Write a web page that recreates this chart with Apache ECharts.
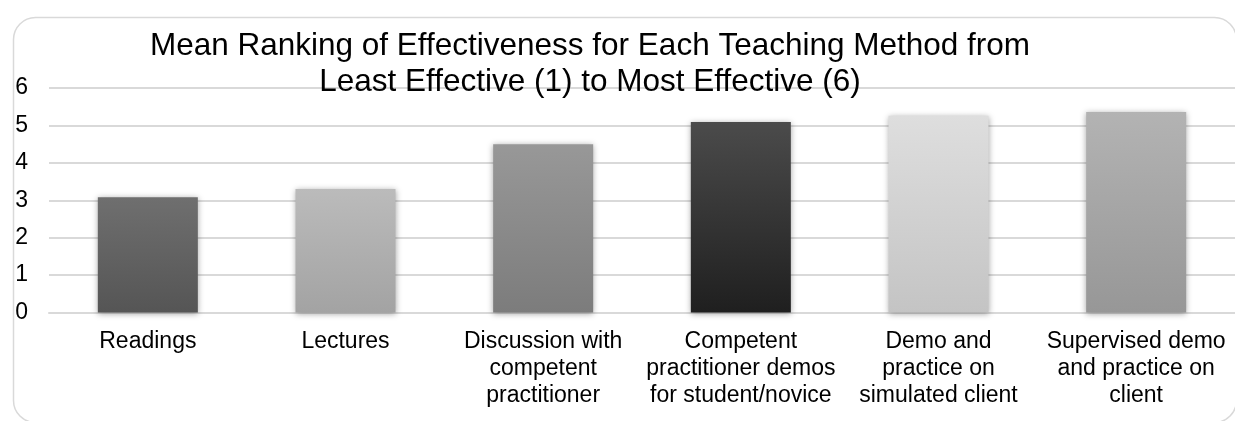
<!DOCTYPE html>
<html>
<head>
<meta charset="utf-8">
<script src="https://cdn.jsdelivr.net/npm/echarts@6/dist/echarts.min.js"></script>
<style>
html,body{margin:0;padding:0;background:#fff;}
#chart{width:1235px;height:421px;}
</style>
</head>
<body>
<div id="chart"></div>
<script>
var titleText = 'Mean Ranking of Effectiveness for Each Teaching Method from\nLeast Effective (1) to Most Effective (6)';
var categories = [
  'Readings',
  'Lectures',
  'Discussion with\ncompetent\npractitioner',
  'Competent\npractitioner demos\nfor student/novice',
  'Demo and\npractice on\nsimulated client',
  'Supervised demo\nand practice on\nclient'
];
var meanRanks = [3.08, 3.30, 4.50, 5.09, 5.26, 5.36];
var yTicks = [0, 1, 2, 3, 4, 5, 6];
var barGradients = [
  ['#6f6f6f', '#555555'],
  ['#bbbbbb', '#a3a3a3'],
  ['#989898', '#7c7c7c'],
  ['#4b4b4b', '#1f1f1f'],
  ['#dedede', '#c4c4c4'],
  ['#b3b3b3', '#979797']
];

var chart = echarts.init(document.getElementById('chart'), null, {renderer: 'canvas'});
var FONT = '"Liberation Sans", Arial, sans-serif';

var seriesData = meanRanks.map(function (v, i) {
  return {
    value: v,
    itemStyle: {
      color: new echarts.graphic.LinearGradient(0, 0, 0, 1, [
        {offset: 0, color: barGradients[i][0]},
        {offset: 1, color: barGradients[i][1]}
      ])
    }
  };
});

chart.setOption({
  animation: false,
  backgroundColor: '#ffffff',
  graphic: [{
    type: 'rect',
    left: 11, top: 15,
    shape: {x: 0, y: 0, width: 1223, height: 405, r: 22},
    style: {fill: 'none', stroke: '#d9d9d9', lineWidth: 1.5},
    z: -1, silent: true
  }],
  title: {
    text: titleText,
    left: 585,
    top: 23,
    textAlign: 'center',
    textStyle: {
      fontFamily: FONT,
      fontSize: 31.5,
      fontWeight: 'normal',
      color: '#000000',
      lineHeight: 36
    }
  },
  grid: {left: 49, top: 88, width: 1190, bottom: 108.5, containLabel: false},
  xAxis: {
    type: 'category',
    data: categories,
    axisLine: {show: true, lineStyle: {color: '#d9d9d9', width: 2}},
    axisTick: {show: false},
    axisLabel: {
      interval: 0,
      margin: 16,
      fontFamily: FONT,
      fontSize: 23,
      lineHeight: 27,
      color: '#000000',
      align: 'center'
    }
  },
  yAxis: {
    type: 'value',
    min: yTicks[0],
    max: yTicks[yTicks.length - 1],
    interval: 1,
    axisLine: {show: false},
    axisTick: {show: false},
    splitLine: {show: true, lineStyle: {color: '#d9d9d9', width: 2}},
    axisLabel: {
      margin: 21,
      fontFamily: FONT,
      fontSize: 23,
      color: '#000000'
    }
  },
  series: [{
    type: 'bar',
    data: seriesData,
    barWidth: 100,
    itemStyle: {
      shadowBlur: 6,
      shadowColor: 'rgba(0,0,0,0.35)',
      shadowOffsetY: 1
    }
  }]
});
</script>
</body>
</html>
